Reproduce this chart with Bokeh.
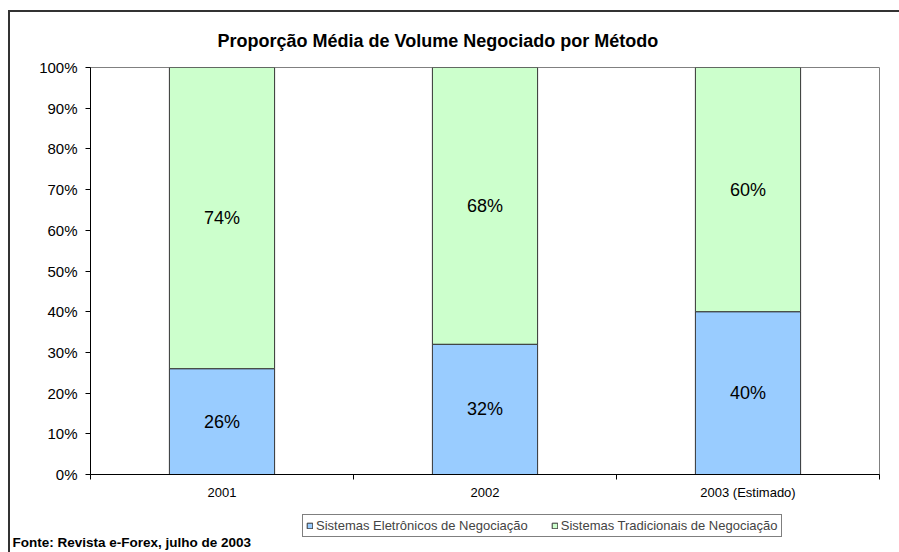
from bokeh.plotting import figure
from bokeh.layouts import column
from bokeh.models import (ColumnDataSource, FixedTicker, NumeralTickFormatter, Label,
                          Legend, LegendItem, Range1d)
from bokeh.core.properties import value
from bokeh.embed import file_html
from bokeh.resources import INLINE

# ---- data ----
categories = ["2001", "2002", "2003 (Estimado)"]
eletronicos = [0.26, 0.32, 0.40]
tradicionais = [0.74, 0.68, 0.60]
series_names = ["Sistemas Eletrônicos de Negociação", "Sistemas Tradicionais de Negociação"]
y_ticks = [0, 0.1, 0.2, 0.3, 0.4, 0.5, 0.6, 0.7, 0.8, 0.9, 1.0]
title_text = "Proporção Média de Volume Negociado por Método"
footer_text = "Fonte: Revista e-Forex, julho de 2003"

FONT = "Liberation Sans"
BLUE = "#99CCFF"
GREEN = "#CCFFCC"
EDGE = "#333333"
COLORS = [BLUE, GREEN]

xs = [i + 0.5 for i in range(len(categories))]
src = ColumnDataSource(dict(
    x=xs,
    ele=eletronicos,
    tra=tradicionais,
    ele_mid=[e / 2 for e in eletronicos],
    tra_mid=[e + t / 2 for e, t in zip(eletronicos, tradicionais)],
    ele_lbl=[f"{round(e*100)}%" for e in eletronicos],
    tra_lbl=[f"{round(t*100)}%" for t in tradicionais],
))

W = 889
p = figure(width=W, height=492, output_backend="svg", toolbar_location=None,
           x_range=Range1d(0, len(categories)), y_range=Range1d(0, 1))
p.frame_align = False
p.min_border_left = 80
p.min_border_right = 20
p.min_border_top = 55
p.min_border_bottom = 30

p.xgrid.visible = False
p.ygrid.visible = False
p.outline_line_color = "#808080"
p.outline_line_width = 1
p.background_fill_color = "white"
p.border_fill_color = "white"

# title
p.title.text = title_text
p.title.text_font = FONT
p.title.text_font_size = "18px"
p.title.text_font_style = "bold"
p.title.text_color = "black"
p.title.align = "left"
p.title.offset = 127
p.title.standoff = 33

p.vbar_stack(["ele", "tra"], x="x", width=0.4, source=src,
             fill_color=COLORS, line_color=EDGE, line_width=1)

p.text(x="x", y="ele_mid", text="ele_lbl", source=src, text_align="center",
       text_baseline="middle", text_font=value(FONT), text_font_size="18px", text_color="black")
p.text(x="x", y="tra_mid", text="tra_lbl", source=src, text_align="center",
       text_baseline="middle", text_font=value(FONT), text_font_size="18px", text_color="black")

# y axis
ya = p.yaxis[0]
ya.ticker = FixedTicker(ticks=y_ticks)
ya.formatter = NumeralTickFormatter(format="0%")
ya.major_tick_out = 5
ya.major_tick_in = 0
ya.minor_tick_line_color = None
ya.axis_line_color = "black"
ya.major_tick_line_color = "black"
ya.major_label_text_font = FONT
ya.major_label_text_font_size = "15px"
ya.major_label_text_color = "black"
ya.major_label_standoff = 8

# x axis
xa = p.xaxis[0]
xa.ticker = FixedTicker(ticks=xs, minor_ticks=list(range(len(categories) + 1)))
xa.major_label_overrides = {x: c for x, c in zip(xs, categories)}
xa.major_tick_line_color = None
xa.major_tick_out = 5
xa.major_tick_in = 0
xa.minor_tick_out = 5
xa.minor_tick_in = 0
xa.minor_tick_line_color = "black"
xa.axis_line_color = "black"
xa.major_label_text_font = FONT
xa.major_label_text_font_size = "13px"
xa.major_label_text_color = "black"
xa.major_label_standoff = 5

# ---- bottom strip: legend + source note ----
H2 = 48
q = figure(width=W, height=H2, output_backend="svg", toolbar_location=None,
           x_range=Range1d(0, W), y_range=Range1d(0, H2),
           x_axis_location=None, y_axis_location=None)
q.frame_align = False
q.min_border = 0
q.min_border_left = 0
q.min_border_right = 0
q.min_border_top = 0
q.min_border_bottom = 0
q.xgrid.visible = False
q.ygrid.visible = False
q.outline_line_color = None
q.background_fill_color = "white"
q.border_fill_color = "white"

# legend swatch renderers (a single hidden point each, outside the visible range)
swatches = [q.vbar(x=[-50], top=[0], bottom=[0], width=1, fill_color=c,
                   line_color=EDGE, line_width=1) for c in COLORS]
legend = Legend(items=[LegendItem(label=n, renderers=[s]) for n, s in zip(series_names, swatches)],
                orientation="horizontal", location=(292, 15),
                glyph_width=7, glyph_height=7, label_text_font=FONT,
                label_text_font_size="13px", label_standoff=3, spacing=23,
                padding=3, margin=0, border_line_color="black", border_line_width=1,
                label_height=12, background_fill_color="white", background_fill_alpha=1)
q.add_layout(legend, "center")

q.add_layout(Label(x=2, y=10, x_units="screen", y_units="screen", text=footer_text,
                   text_font=FONT, text_font_size="13.5px",
                   text_font_style="bold", text_color="black", text_align="left",
                   text_baseline="alphabetic"))

layout = column(p, q, spacing=0, margin=(10, 0, 0, 8),
                styles={"border-left": "2px solid #333333", "border-top": "2px solid #333333"})

open("out.html", "w").write(file_html(layout, INLINE))
